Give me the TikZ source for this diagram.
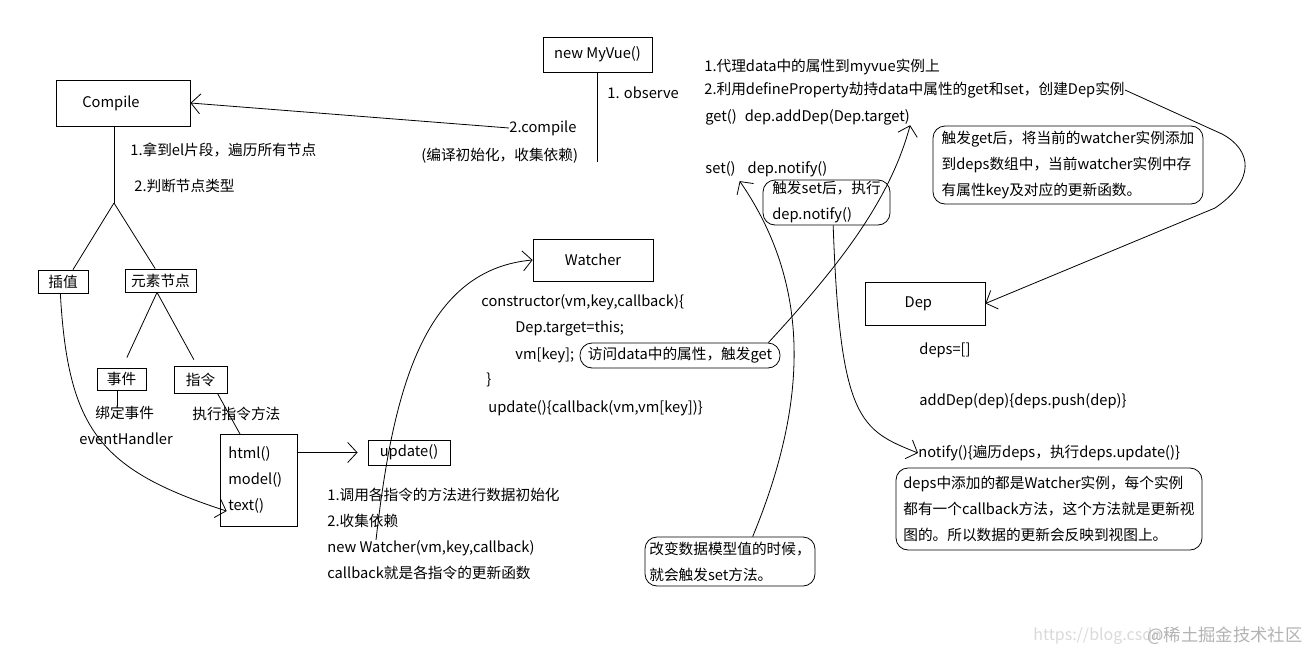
\documentclass[tikz,border=0pt]{standalone}
\usepackage{fontspec}
\setmainfont{Noto Sans CJK SC}
\usetikzlibrary{arrows.meta}

\tikzset{
  box/.style={draw, inner sep=0pt},
  txt/.style={anchor=west, inner sep=0pt, align=left},
  note/.style={draw, rounded corners=9pt, inner sep=0pt, align=left},
  arr/.style={-{Straight Barb[length=7pt,width=15pt]}},
}

\begin{document}
\begin{tikzpicture}[x=0.75pt, y=-0.75pt, line width=0.6pt, font=\fontsize{11pt}{19.5pt}\selectfont]
    \useasboundingbox (0,0) rectangle (1313,653);

    % Boxes
    \node[box, minimum width=100.5pt, minimum height=34.5pt, label={[xshift=-9pt]center:Compile}] (compile) at (123,103) {};
    \node[box, minimum width=81.75pt, minimum height=26.25pt] (myvue) at (597.5,54.5) {new MyVue()};
    \node[box, minimum width=37.5pt, minimum height=17.25pt] (chazhi) at (63,281.5) {插值};
    \node[box, minimum width=53.25pt, minimum height=17.25pt] (yuansu) at (160.5,280.5) {元素节点};
    \node[box, minimum width=36.75pt, minimum height=16.5pt] (shijian) at (121.5,379) {事件};
    \node[box, minimum width=39.75pt, minimum height=20.25pt] (zhiling) at (200.5,379.5) {指令};
    \node[box, anchor=north west, minimum width=57.75pt, minimum height=69pt, text width=45.75pt, inner xsep=6pt, align=left] (html) at (220,434) {html()\\model()\\text()};
    \node[box, minimum width=61.5pt, minimum height=18.75pt] (update) at (409,452.5) {update()};
    \node[box, minimum width=90pt, minimum height=31.5pt] (watcher) at (593,260) {Watcher};
    \node[box, minimum width=90pt, minimum height=32.25pt, label={[xshift=-5pt]center:Dep}] (dep) at (925,303.5) {};

    % Compile labels
    \node[txt] (walk) at (130,150) {1.拿到el片段，遍历所有节点};
    \node[txt] (judge) at (134,186) {2.判断节点类型};
    \node[txt] (bind) at (95,413) {绑定事件};
    \node[txt] (handler) at (79,439) {eventHandler};
    \node[txt] (run) at (192,414) {执行指令方法};
    \node[txt] (init) at (327,534) {1.调用各指令的方法进行数据初始化\\2.收集依赖\\new Watcher(vm,key,callback)\\callback就是各指令的更新函数};

    % MyVue labels
    \node[txt] (observe) at (607,93) {1. observe};
    \node[txt] (cmp) at (509,128) {2.compile};
    \node[txt] (cmpnote) at (421,156) {(编译初始化，收集依赖)};

    % Watcher code
    \node[txt] (ctor) at (481,302) {constructor(vm,key,callback)\{};
    \node[txt] (target) at (515,328) {Dep.target=this;};
    \node[txt] (vmkey) at (515,355) {vm[key];};
    \node[txt] (close) at (486,380) {\}};
    \node[txt] (upd) at (488,408) {update()\{callback(vm,vm[key])\}};
    \node[note, minimum width=150pt, minimum height=18.75pt] (fangwen) at (680,355.5) {访问data中的属性，触发get};

    % Observer labels
    \node[txt] (proxy) at (704,67) {1.代理data中的属性到myvue实例上};
    \node[txt] (def) at (704,90) {2.利用defineProperty劫持data中属性的get和set，创建Dep实例};
    \node[txt] (getl) at (705,117) {get()\hspace{6pt}dep.addDep(Dep.target)};
    \node[txt] (setl) at (705,169) {set()\hspace{9pt}dep.notify()};
    \node[note, minimum width=95.25pt, minimum height=33.75pt] (setnote) at (826.5,202.5) {触发set后，执行\\dep.notify()};
    \node[note, minimum width=202.5pt, minimum height=58.5pt] (getnote) at (1068,165) {触发get后，将当前的watcher实例添加\\到deps数组中，当前watcher实例中存\\有属性key及对应的更新函数。};
    \node[note, minimum width=127.5pt, minimum height=36.75pt] (setmodel) at (730,561.5) {改变数据模型值的时候，\\就会触发set方法。};

    % Dep labels
    \node[txt] (deps) at (919,350) {deps=[]};
    \node[txt] (adddep) at (919,401) {addDep(dep)\{deps.push(dep)\}};
    \node[txt] (notify) at (918,453) {notify()\{遍历deps，执行deps.update()\}};
    \node[note, minimum width=229.5pt, minimum height=61.5pt] (depnote) at (1049,509) {deps中添加的都是Watcher实例，每个实例\\都有一个callback方法，这个方法就是更新视\\图的。所以数据的更新会反映到视图上。};

    % Compile tree
    \coordinate (fork) at (114,203);
    \draw (fork |- compile.south) -- (fork);
    \draw (fork) -- ([xshift=7.5pt]chazhi.north);
    \draw (fork) -- ([xshift=-4pt]yuansu.north);
    \draw ([xshift=-2.6pt]yuansu.south) -- ([shift={(4pt,7.5pt)}]shijian.north);
    \draw ([xshift=-2.6pt]yuansu.south) -- ([shift={(-5pt,4.5pt)}]zhiling.north);
    \draw ([xshift=-3.4pt]shijian.south) -- ++(0,16);
    \draw ([xshift=12.75pt]zhiling.south) -- ([xshift=15pt]html.north west);
    \draw[arr] (html.east |- update.west) -- ([xshift=-7.5pt]update.west);
    \draw[arr] ([xshift=-2pt]chazhi.south) .. controls (68,430) and (100,470) .. ([shift={(5pt,-23pt)}]html.west);

    % MyVue
    \draw (myvue.south) -- ++(0,90);
    \draw[arr] (cmp.west) -- (compile.east);

    % Watcher and Dep links
    \coordinate (wstart) at (376,540);
    \draw[arr] (wstart) .. controls (392,400) and (420,270) .. (watcher.west);
    \draw[arr] ([xshift=-9pt]fangwen.north east) .. controls (840,265) and (890,200) .. (getl.south east);
    \draw[arr] ([xshift=17pt]setmodel.north) .. controls (805,410) and (815,290) .. ([shift={(26pt,-3pt)}]setl.south west);
    \draw[arr] ([xshift=5pt]setnote.south) .. controls (840,420) and (860,430) .. (notify.west);
    \draw[arr] (def.east) -- (1222,134) .. controls (1252,150) and (1256,180) .. (1215,208) -- (dep.east);

    % Watermark
    \node[txt, text=black!15, font=\fontsize{12pt}{12pt}\selectfont] (url) at (1033,636) {https://blog.csdn};
    \node[txt, text=black!30, font=\fontsize{13pt}{13pt}\selectfont] (mark) at (1147,636) {@稀土掘金技术社区};
\end{tikzpicture}
\end{document}
